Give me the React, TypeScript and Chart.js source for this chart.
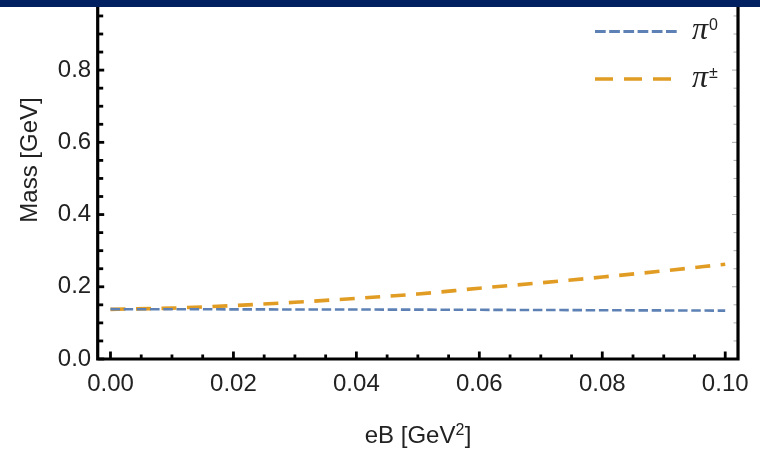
import React, { useEffect, useRef } from "react";
import { Chart, registerables } from "chart.js";

Chart.register(...registerables);

// ---- data ----
const eB = [0, 0.01, 0.02, 0.03, 0.04, 0.05, 0.06, 0.07, 0.08, 0.09, 0.1];
const massPi0 = [0.138, 0.1378, 0.1375, 0.1372, 0.137, 0.1367, 0.1362, 0.1357, 0.135, 0.1345, 0.134];
const massPiPm = [0.1375, 0.141, 0.148, 0.157, 0.168, 0.18, 0.196, 0.211, 0.227, 0.244, 0.2625];

const xTickValues = [0, 0.02, 0.04, 0.06, 0.08, 0.1];
const yTickValues = [0, 0.2, 0.4, 0.6, 0.8, 1.0];
const xMinorStep = 0.005;
const yMinorStep = 0.05;
const seriesLabels = ["0", "±"]; // superscripts on π

const X_MIN = -0.00208;
const X_MAX = 0.10208;
const Y_MIN = 0;
const Y_MAX = 1.0;

const BLUE = "#5E81B5";
const ORANGE = "#E19C24";
const NAVY = "#002060";
const FONT = '"Liberation Sans", Arial, sans-serif';
const TEXT = "#222";
const CANVAS_TOP = -23;

const framePlugin = {
  id: "frameAndLegend",
  afterDraw(chart: any) {
    const { ctx, chartArea: a, scales } = chart;
    const x = scales.x;
    const y = scales.y;
    ctx.save();
    ctx.lineCap = "butt";

    // right-side ticks (light grey, inward)
    ctx.strokeStyle = "#aaa";
    ctx.lineWidth = 1;
    const nY = Math.round((Y_MAX - Y_MIN) / yMinorStep);
    for (let i = 0; i <= nY; i++) {
      const py = y.getPixelForValue(Y_MIN + i * yMinorStep);
      const major = i % 4 === 0;
      ctx.beginPath();
      ctx.moveTo(a.right, py);
      ctx.lineTo(a.right - (major ? 6 : 4.5), py);
      ctx.stroke();
    }

    // left ticks
    ctx.strokeStyle = "#000";
    ctx.lineWidth = 2.8;
    for (let i = 0; i <= nY; i++) {
      const py = y.getPixelForValue(Y_MIN + i * yMinorStep);
      const major = i % 4 === 0;
      ctx.beginPath();
      ctx.moveTo(a.left, py);
      ctx.lineTo(a.left + (major ? 6.5 : 5.5), py);
      ctx.stroke();
    }
    // bottom ticks
    const nX = Math.round(0.1 / xMinorStep);
    for (let i = 0; i <= nX; i++) {
      const px = x.getPixelForValue(i * xMinorStep);
      const major = i % 4 === 0;
      ctx.beginPath();
      ctx.moveTo(px, a.bottom);
      ctx.lineTo(px, a.bottom - (major ? 7.5 : 4.5));
      ctx.stroke();
    }

    // frame
    ctx.lineWidth = 3.2;
    ctx.beginPath();
    ctx.moveTo(a.left, a.top);
    ctx.lineTo(a.left, a.bottom);
    ctx.lineTo(a.right, a.bottom);
    ctx.lineTo(a.right, a.top);
    ctx.stroke();

    const off = -CANVAS_TOP;

    // axis titles
    ctx.fillStyle = TEXT;
    ctx.font = `24px ${FONT}`;
    ctx.textAlign = "center";
    ctx.textBaseline = "middle";
    ctx.save();
    ctx.translate(30, 160 + off);
    ctx.rotate(-Math.PI / 2);
    ctx.fillText("Mass [GeV]", 0, 0);
    ctx.restore();

    ctx.textAlign = "left";
    ctx.textBaseline = "alphabetic";
    const p1 = "eB [GeV";
    const p3 = "]";
    ctx.font = `24px ${FONT}`;
    const w1 = ctx.measureText(p1).width;
    const w3 = ctx.measureText(p3).width;
    ctx.font = `16px ${FONT}`;
    const w2 = ctx.measureText("2").width;
    const cx = (a.left + a.right) / 2;
    const sx = cx - (w1 + w2 + w3) / 2;
    const base = 443 + off;
    ctx.font = `24px ${FONT}`;
    ctx.fillText(p1, sx, base);
    ctx.font = `16px ${FONT}`;
    ctx.fillText("2", sx + w1, base - 8.5);
    ctx.font = `24px ${FONT}`;
    ctx.fillText(p3, sx + w1 + w2 + 0.5, base);

    // legend
    const legendRows = [
      { color: BLUE, width: 2.8, dash: [10.7, 3.5], y: 31.5, sup: seriesLabels[0] },
      { color: ORANGE, width: 3.6, dash: [18, 11], y: 79, sup: seriesLabels[1] },
    ];
    for (const r of legendRows) {
      ctx.strokeStyle = r.color;
      ctx.lineWidth = r.width;
      ctx.setLineDash(r.dash);
      ctx.beginPath();
      ctx.moveTo(595, r.y + off);
      ctx.lineTo(678, r.y + off);
      ctx.stroke();
      ctx.setLineDash([]);
      ctx.fillStyle = TEXT;
      ctx.font = `italic 32px "Liberation Serif", serif`;
      ctx.fillText("π", 692, r.y + 7.5 + off);
      const pw = ctx.measureText("π").width;
      ctx.font = `16px ${FONT}`;
      ctx.fillText(r.sup, 692 + pw + 1, r.y - 1.5 + off);
    }
    ctx.restore();
  },
};

export default function App() {
  const ref = useRef<HTMLCanvasElement>(null);
  useEffect(() => {
    const canvas = ref.current!;
    const chart = new Chart(canvas, {
      type: "line",
      data: {
        datasets: [
          {
            label: "π0",
            data: eB.map((v, i) => ({ x: v, y: massPi0[i] })),
            borderColor: BLUE,
            borderWidth: 2.6,
            borderDash: [9.5, 3.7],
            borderCapStyle: "butt",
            pointRadius: 0,
            fill: false,
          },
          {
            label: "π±",
            data: eB.map((v, i) => ({ x: v, y: massPiPm[i] })),
            borderColor: ORANGE,
            borderWidth: 3.6,
            borderDash: [15, 10.5],
            borderCapStyle: "butt",
            pointRadius: 0,
            fill: false,
            cubicInterpolationMode: "monotone",
          },
        ],
      },
      options: {
        animation: false,
        responsive: false,
        devicePixelRatio: 1,
        layout: { padding: { top: 16.4, right: 21, left: 0, bottom: 0 } },
        plugins: { legend: { display: false }, tooltip: { enabled: false }, title: { display: false } },
        scales: {
          x: {
            type: "linear",
            min: X_MIN,
            max: X_MAX,
            grid: { display: false, drawTicks: false },
            border: { display: false },
            afterBuildTicks: (s: any) => {
              s.ticks = xTickValues.map((v) => ({ value: v }));
            },
            afterFit: (s: any) => {
              s.height = 96;
            },
            ticks: {
              font: { family: FONT, size: 24 },
              color: TEXT,
              padding: 11,
              maxRotation: 0,
              autoSkip: false,
              callback: (v: any) => Number(v).toFixed(2),
            },
          },
          y: {
            type: "linear",
            min: Y_MIN,
            max: Y_MAX,
            grid: { display: false, drawTicks: false },
            border: { display: false },
            afterBuildTicks: (s: any) => {
              s.ticks = yTickValues.map((v) => ({ value: v }));
            },
            afterFit: (s: any) => {
              s.width = 97.7;
            },
            ticks: {
              font: { family: FONT, size: 24 },
              color: TEXT,
              padding: 6.5,
              autoSkip: false,
              callback: (v: any) => Number(v).toFixed(1),
            },
          },
        },
      },
      plugins: [framePlugin],
    } as any);
    return () => chart.destroy();
  }, []);

  return (
    <div
      style={{
        position: "fixed",
        left: 0,
        top: 0,
        width: 760,
        height: 455,
        overflow: "hidden",
        background: "#fff",
      }}
    >
      <canvas
        ref={ref}
        width={760}
        height={478}
        style={{ position: "absolute", left: 0, top: CANVAS_TOP, width: 760, height: 478 }}
      />
      <div style={{ position: "absolute", left: 0, top: 0, width: 760, height: 7, background: NAVY }} />
    </div>
  );
}
